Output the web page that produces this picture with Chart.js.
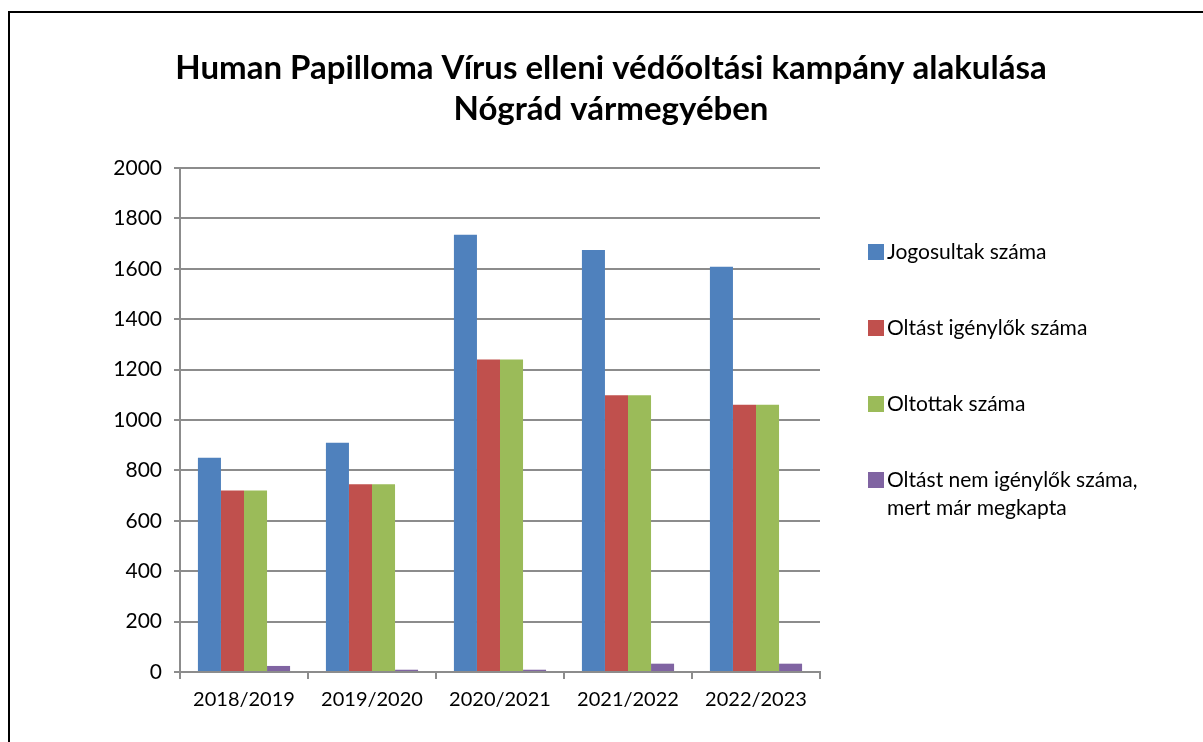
<!DOCTYPE html>
<html lang="hu">
<head>
<meta charset="utf-8">
<title>HPV védőoltási kampány - Nógrád</title>
<script src="https://cdn.jsdelivr.net/npm/chart.js@4/dist/chart.umd.min.js"></script>
<style>
    body { margin: 0; background: #fff; }
    #wrap { position: relative; width: 1203px; height: 742px; overflow: hidden; }
    #frame {
        position: absolute; left: 8px; top: 11px; width: 1300px; height: 900px;
        border-left: 2px solid #000; border-top: 2px solid #000;
    }
    #chart { position: absolute; left: 0; top: 0; }
</style>
</head>
<body>
<div id="wrap">
    <div id="frame"></div>
    <canvas id="chart" width="1203" height="742"></canvas>
</div>
<script>
const titleLines = ['Human Papilloma Vírus elleni védőoltási kampány alakulása', 'Nógrád vármegyében'];

const categories = ['2018/2019', '2019/2020', '2020/2021', '2021/2022', '2022/2023'];

const jogosultak = [850, 910, 1735, 1675, 1608];
const igenylok = [720, 745, 1240, 1098, 1061];
const oltottak = [720, 745, 1240, 1098, 1061];
const nemIgenylok = [24, 9, 9, 33, 33];

const seriesLabels = [
    ['Jogosultak száma'],
    ['Oltást igénylők száma'],
    ['Oltottak száma'],
    ['Oltást nem igénylők száma,', 'mert már megkapta']
];
const seriesColors = ['#4F81BD', '#C0504D', '#9BBB59', '#8064A2'];

const FONT = 'Lato, "Liberation Sans", sans-serif';
const GRID = '#8c8c8c';

// title + legend are drawn by hand so they land where the original puts them
const decorPlugin = {
    id: 'decor',
    afterDraw(chart) {
        const ctx = chart.ctx;
        ctx.save();
        ctx.fillStyle = '#000';
        ctx.textAlign = 'center';
        ctx.textBaseline = 'middle';
        ctx.font = 'bold 33px ' + FONT;
        ctx.fillText(titleLines[0], 611, 68, 884);
        ctx.fillText(titleLines[1], 611, 109, 884);

        ctx.font = '21px ' + FONT;
        ctx.textAlign = 'left';
        let y = 252;
        for (let i = 0; i < seriesLabels.length; i++) {
            ctx.fillStyle = seriesColors[i];
            ctx.fillRect(868, y - 8, 16, 16);
            ctx.fillStyle = '#000';
            seriesLabels[i].forEach(function(line, j) {
                ctx.fillText(line, 887, y + j * 28);
            });
            y += 76;
        }
        ctx.restore();
    }
};

window.onload = function() {
    const datasets = [jogosultak, igenylok, oltottak, nemIgenylok].map(function(values, i) {
        return {
            label: seriesLabels[i].join(' '),
            data: values,
            backgroundColor: seriesColors[i],
            borderWidth: 0,
            categoryPercentage: 0.72,
            barPercentage: 1.0
        };
    });

    new Chart(document.getElementById('chart'), {
        type: 'bar',
        data: {
            labels: categories,
            datasets: datasets
        },
        options: {
            responsive: false,
            animation: false,
            layout: {
                padding: { top: 168, right: 383, bottom: 0, left: 0 }
            },
            plugins: {
                legend: { display: false },
                title: { display: false },
                tooltip: { enabled: false }
            },
            scales: {
                x: {
                    afterFit: function(scale) { scale.height = 70; },
                    grid: {
                        offset: true,
                        drawOnChartArea: false,
                        color: GRID,
                        lineWidth: 2,
                        tickLength: 7
                    },
                    border: { color: GRID, width: 2 },
                    ticks: {
                        color: '#000',
                        padding: 9,
                        font: { family: FONT, size: 20 }
                    }
                },
                y: {
                    min: 0,
                    max: 2000,
                    afterFit: function(scale) { scale.width = 180; },
                    grid: {
                        color: GRID,
                        lineWidth: 2,
                        tickLength: 6
                    },
                    border: { color: GRID, width: 2 },
                    ticks: {
                        stepSize: 200,
                        color: '#000',
                        padding: 12,
                        font: { family: FONT, size: 21 },
                        callback: function(value) { return String(value); }
                    }
                }
            }
        },
        plugins: [decorPlugin]
    });
};
</script>
</body>
</html>
